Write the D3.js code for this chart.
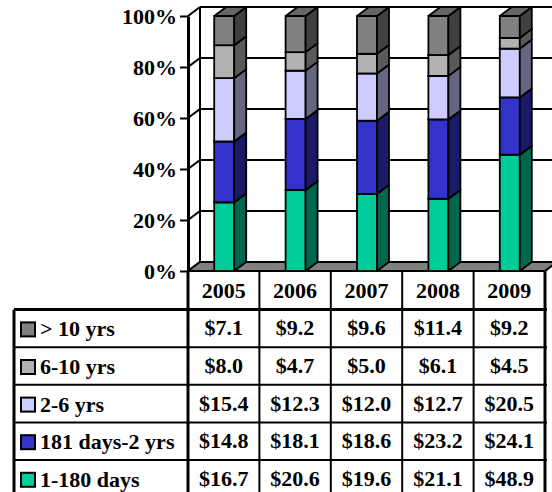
<!DOCTYPE html>
<html><head><meta charset="utf-8">
<script src="https://cdn.jsdelivr.net/npm/d3@7"></script>
<style>
html,body{margin:0;padding:0;background:#fff;}
svg{display:block;}
text{font-family:"Liberation Serif","Times New Roman",serif;font-weight:bold;fill:#000;}
</style></head>
<body>
<svg id="c" width="552" height="492"></svg>
<script>
// ---- data ----
const years = ["2005","2006","2007","2008","2009"];
const seriesNames = ["1-180 days","181 days-2 yrs","2-6 yrs","6-10 yrs","> 10 yrs"]; // bottom to top
const days1to180 = [16.7, 20.6, 19.6, 21.1, 48.9];
const days181to2y = [14.8, 18.1, 18.6, 23.2, 24.1];
const yrs2to6 = [15.4, 12.3, 12.0, 12.7, 20.5];
const yrs6to10 = [8.0, 4.7, 5.0, 6.1, 4.5];
const yrsOver10 = [7.1, 9.2, 9.6, 11.4, 9.2];
const yTicks = [0, 0.2, 0.4, 0.6, 0.8, 1.0];
const frontColors = ["#00CC99","#3333CC","#CCCCFF","#B2B2B2","#808080"];
const sideColors  = ["#00664D","#1A1A66","#666680","#595959","#404040"];
const topColors   = ["#00A37A","#2929A3","#A3A3CC","#8E8E8E","#666666"];

const seriesValues = [days1to180, days181to2y, yrs2to6, yrs6to10, yrsOver10];

// ---- layout ----
const svg = d3.select("#c");
const X0 = 188, X1 = 545, Y0 = 271, Y1 = 16;
const DX = 12, DY = -9;
const FS = 22;

const x = d3.scaleBand().domain(years).range([X0, X1]).paddingInner(0).paddingOuter(0);
const y = d3.scaleLinear().domain([0, 1]).range([Y0, Y1]);

const table = years.map((yr, i) => {
  const o = {year: yr};
  seriesNames.forEach((s, k) => o[s] = seriesValues[k][i]);
  return o;
});
const stack = d3.stack().keys(seriesNames).offset(d3.stackOffsetExpand);
const stacked = stack(table);

// ---- walls ----
const walls = svg.append("g");
walls.selectAll("line.grid").data(yTicks).join("line")
  .attr("x1", X0 + DX).attr("x2", 560)
  .attr("y1", d => y(d) + DY).attr("y2", d => y(d) + DY)
  .attr("stroke", "#000").attr("stroke-width", 2);
walls.selectAll("line.diag").data(yTicks).join("line")
  .attr("x1", X0).attr("x2", X0 + DX)
  .attr("y1", d => y(d)).attr("y2", d => y(d) + DY)
  .attr("stroke", "#000").attr("stroke-width", 2);
walls.append("line").attr("x1", X0 + DX).attr("x2", X0 + DX)
  .attr("y1", y(1) + DY).attr("y2", y(0) + DY)
  .attr("stroke", "#000").attr("stroke-width", 2);
walls.append("path")
  .attr("d", `M${X0},${Y0}L${X1},${Y0}L${X1 + DX},${Y0 + DY}L${X0 + DX},${Y0 + DY}Z`)
  .attr("fill", "#808080").attr("stroke", "#000").attr("stroke-width", 2);

// ---- bars ----
const bw = 20;
const bars = svg.append("g");
years.forEach((yr, i) => {
  const bx = x(yr) + x.bandwidth() / 2 - bw / 2 + 0.5;
  stacked.forEach((layer, k) => {
    const d = layer[i];
    const yb = y(d[0]), yt = y(d[1]);
    const g = bars.append("g");
    g.append("rect").attr("x", bx).attr("y", yt).attr("width", bw).attr("height", yb - yt)
      .attr("fill", frontColors[k]).attr("stroke", "#000").attr("stroke-width", 1.8);
    g.append("path")
      .attr("d", `M${bx + bw},${yb}L${bx + bw + DX},${yb + DY}L${bx + bw + DX},${yt + DY}L${bx + bw},${yt}Z`)
      .attr("fill", sideColors[k]).attr("stroke", "#000").attr("stroke-width", 1.8).attr("stroke-linejoin", "round");
    g.append("path")
      .attr("d", `M${bx},${yt}L${bx + bw},${yt}L${bx + bw + DX},${yt + DY}L${bx + DX},${yt + DY}Z`)
      .attr("fill", topColors[k]).attr("stroke", "#000").attr("stroke-width", 1.8).attr("stroke-linejoin", "round");
  });
});

// ---- y axis ----
const yAxis = d3.axisLeft(y).tickValues(yTicks).tickFormat(d3.format(".0%")).tickSize(8).tickSizeOuter(0).tickPadding(3);
const ga = svg.append("g").attr("transform", `translate(${X0},0)`).call(yAxis);
ga.select(".domain").attr("stroke", "#000").attr("stroke-width", 3);
ga.selectAll(".tick line").attr("stroke", "#000").attr("stroke-width", 2);
ga.selectAll(".tick text").attr("font-size", FS).attr("font-family", "Liberation Serif").attr("font-weight", "bold").attr("fill", "#000");

// ---- data table ----
const rowOrder = seriesNames.slice().reverse();
const headTop = 272, rowH = 37.6;
const tbl = svg.append("g");
const leftX = 14;
tbl.selectAll("text.head").data(years).join("text")
  .attr("x", d => x(d) + x.bandwidth() / 2)
  .attr("y", headTop + rowH / 2 + 7)
  .attr("text-anchor", "middle").attr("font-size", FS).text(d => d);
const fmt = d3.format(".1f");
rowOrder.forEach((name, r) => {
  const k = seriesNames.indexOf(name);
  const ry = headTop + rowH * (r + 1);
  const cy = ry + rowH / 2;
  tbl.append("rect").attr("x", 21).attr("y", cy - 6).attr("width", 14).attr("height", 14)
    .attr("fill", frontColors[k]).attr("stroke", "#000").attr("stroke-width", 2);
  tbl.append("text").attr("x", 40).attr("y", cy + 8).attr("font-size", FS).text(name);
  years.forEach((yr, i) => {
    tbl.append("text").attr("x", x(yr) + x.bandwidth() / 2).attr("y", cy + 7)
      .attr("text-anchor", "middle").attr("font-size", FS)
      .text("$" + fmt(seriesValues[k][i]));
  });
});
const nRows = rowOrder.length;
const bottomY = headTop + rowH * (nRows + 1);
for (let r = 1; r <= nRows + 1; r++) {
  tbl.append("line").attr("x1", leftX).attr("x2", X1 + 2)
    .attr("y1", headTop + rowH * r).attr("y2", headTop + rowH * r)
    .attr("stroke", "#000").attr("stroke-width", r === 1 ? 3 : 2);
}
const edges = years.map(d => x(d)).concat([X1]);
edges.forEach((ex, j) => {
  tbl.append("line").attr("x1", ex).attr("x2", ex)
    .attr("y1", Y0).attr("y2", bottomY)
    .attr("stroke", "#000").attr("stroke-width", (j === 0 || j === edges.length - 1) ? 3 : 2);
});
tbl.append("line").attr("x1", leftX).attr("x2", leftX)
  .attr("y1", headTop + rowH).attr("y2", bottomY)
  .attr("stroke", "#000").attr("stroke-width", 3);
</script>
</body></html>
